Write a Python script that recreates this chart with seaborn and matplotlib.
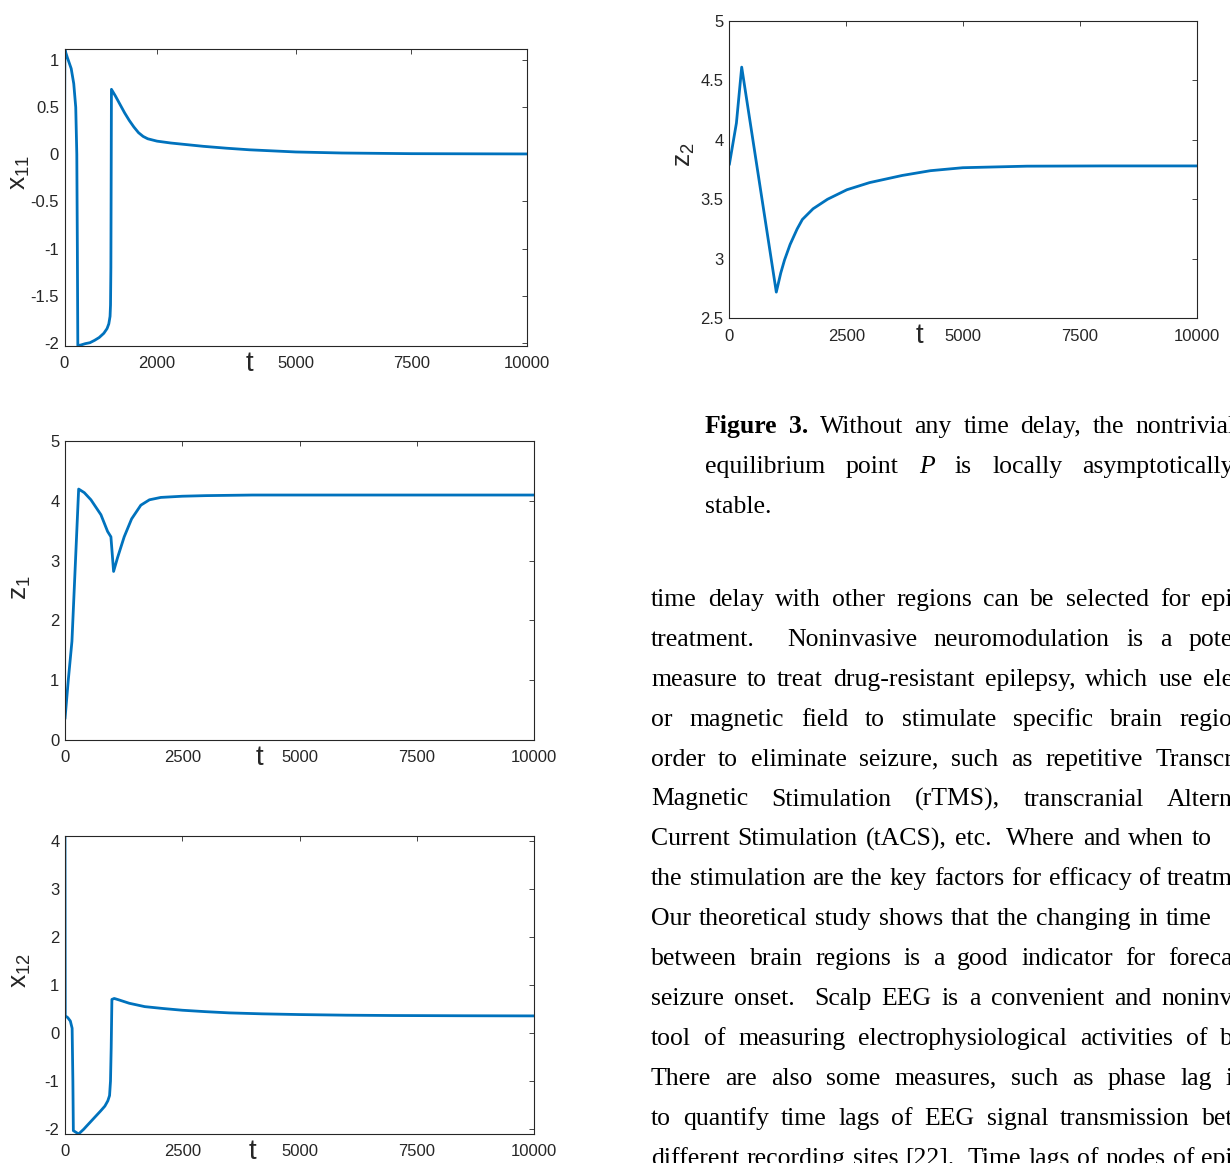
import matplotlib
matplotlib.use("Agg")
import matplotlib.pyplot as plt
import seaborn as sns

# valores (t, variable)
t_x11 = [0, 8, 60, 145, 200, 243, 266, 278, 288, 350, 450, 550, 650, 750, 850, 920, 958, 985, 995, 1003,
         1015, 1100, 1200, 1300, 1400, 1500, 1600, 1700, 1800, 2000, 2300, 2700, 3000, 3500, 4000,
         5000, 6000, 7500, 10000]
x11 = [0, 1.11, 1.03, 0.91, 0.75, 0.5, 0.0, -1.0, -2.03, -2.025, -2.01, -2.0, -1.975, -1.945, -1.9, -1.85,
       -1.8, -1.72, -1.6, -1.2,
       0.69, 0.62, 0.53, 0.44, 0.36, 0.29, 0.23, 0.19, 0.165, 0.14, 0.12, 0.10, 0.085, 0.065, 0.048,
       0.025, 0.014, 0.007, 0.004]

t_z1 = [0, 70, 148, 198, 291, 411, 553, 766, 908, 979, 1036, 1120, 1262, 1420, 1617, 1800,
        2043, 2500, 3000, 4000, 6000, 10000]
z1 = [0.35, 1.0, 1.65, 2.54, 4.2, 4.14, 4.02, 3.77, 3.49, 3.4, 2.82, 3.05, 3.4, 3.7, 3.93, 4.02,
      4.06, 4.08, 4.09, 4.1, 4.1, 4.1]

t_x12 = [0, 5, 60, 114, 152, 168, 178, 290, 400, 456, 608, 760, 850, 913, 950, 970, 985, 1000,
         1050, 1150, 1370, 1700, 2100, 2500, 3000, 3500, 4200, 5000, 6000, 7000, 8500, 10000]
x12 = [4.1, 0.36, 0.32, 0.25, 0.1, -1.0, -2.03, -2.1, -2.0, -1.94, -1.78, -1.62, -1.52, -1.41, -1.3, -1.0,
       -0.3, 0.70,
       0.72, 0.69, 0.62, 0.55, 0.51, 0.475, 0.445, 0.42, 0.40, 0.385, 0.372, 0.365, 0.36, 0.357]

t_z2 = [0, 152, 265, 1005, 1100, 1181, 1300, 1450, 1562, 1791, 2100, 2515, 3000, 3697, 4300,
        4992, 6364, 8000, 10000]
z2 = [3.79, 4.14, 4.61, 2.72, 2.88, 2.99, 3.12, 3.25, 3.33, 3.42, 3.5, 3.58, 3.64, 3.70, 3.74,
      3.765, 3.778, 3.78, 3.78]

xticks_x11 = [0, 2000, 5000, 7500, 10000]
xticks_t = [0, 2500, 5000, 7500, 10000]
yticks_x11 = [-2, -1.5, -1, -0.5, 0, 0.5, 1]
yticks_z1 = [0, 1, 2, 3, 4, 5]
yticks_x12 = [-2, -1, 0, 1, 2, 3, 4]
yticks_z2 = [2.5, 3, 3.5, 4, 4.5, 5]

caption_lines = ["Figure 3. Without any time delay, the nontrivial",
                 "equilibrium point P is locally asymptotically",
                 "stable."]
body_lines = ["time delay with other regions can be selected for epi",
              "treatment. Noninvasive neuromodulation is a pote",
              "measure to treat drug-resistant epilepsy, which use ele",
              "or magnetic field to stimulate specific brain regio",
              "order to eliminate seizure, such as repetitive Transcr",
              "Magnetic Stimulation (rTMS), transcranial Altern",
              "Current Stimulation (tACS), etc. Where and when to",
              "the stimulation are the key factors for efficacy of treatm",
              "Our theoretical study shows that the changing in time",
              "between brain regions is a good indicator for foreca",
              "seizure onset. Scalp EEG is a convenient and noninv",
              "tool of measuring electrophysiological activities of b",
              "There are also some measures, such as phase lag i",
              "to quantify time lags of EEG signal transmission bet",
              "different recording sites [22]. Time lags of nodes of epi"]

W, H = 1230, 1163
AZUL = "#0072BD"
GRIS = "#262626"

sns.set_theme(style="white")
plt.rcParams["font.family"] = ["Liberation Sans", "DejaVu Sans"]
plt.rcParams["axes.unicode_minus"] = False
plt.rcParams["mathtext.default"] = "regular"


def rect(l, t, r, b):
    return [l / W, 1 - b / H, (r - l) / W, (b - t) / H]


def panel(ax, t, y, nombre, xticks, yticks, ylim, tx, ly):
    sns.lineplot(x=t, y=y, ax=ax, color=AZUL, linewidth=2.0, estimator=None, sort=False)
    ax.set_xlim(0, 10000)
    ax.set_ylim(*ylim)
    ax.set_xticks(xticks)
    ax.set_xticklabels([f"{v:g}" for v in xticks])
    ax.set_yticks(yticks)
    ax.set_yticklabels([f"{v:g}" for v in yticks])
    ax.tick_params(direction="in", top=True, right=True, length=3.6, width=0.6,
                   colors=GRIS, labelsize=12)
    ax.tick_params(axis="x", pad=7.5)
    ax.tick_params(axis="y", pad=4)
    for s in ax.spines.values():
        s.set_color(GRIS)
        s.set_linewidth(0.8)
    ax.set_xlabel("t", fontsize=20, color=GRIS)
    ax.xaxis.label.set_va("center")
    alto = ax.get_position().height * H
    ax.xaxis.set_label_coords(tx, -18 / alto)
    ax.set_ylabel(nombre, fontsize=19, color=GRIS)
    ax.yaxis.label.set_va("center")
    ancho = ax.get_position().width * W
    ax.yaxis.set_label_coords(-44 / ancho, ly)


def justificar(fig, palabras, x0, x1, base, ultima=False, **kw):
    r = fig.canvas.get_renderer()
    arts, anchos = [], []
    for p in palabras:
        estilo = dict(kw)
        if p in ("Figure", "3.") and base < 440:
            estilo["fontweight"] = "bold"
        if p == "P":
            estilo["fontstyle"] = "italic"
        a = fig.text(0, 1 - base / H, p, va="baseline", ha="left", **estilo)
        arts.append(a)
        anchos.append(a.get_window_extent(renderer=r).width)
    pesos = [1.9 if (p.endswith(".") and p != "3.") else 1.0 for p in palabras[:-1]]
    if ultima or len(palabras) == 1:
        extra = [6.0 * w for w in pesos]
    else:
        libre = (x1 - x0) - sum(anchos)
        unidad = max(libre / sum(pesos), 3.0)
        extra = [unidad * w for w in pesos]
    x = x0
    for i, a in enumerate(arts):
        a.set_x(x / W)
        x += anchos[i] + (extra[i] if i < len(extra) else 0)


fig = plt.figure(figsize=(W / 100, H / 100), dpi=100)
fig.patch.set_facecolor("white")

ax1 = fig.add_axes(rect(64.5, 49.3, 527, 346))
ax2 = fig.add_axes(rect(65, 441.3, 534, 739.8))
ax3 = fig.add_axes(rect(65, 836, 534, 1134))
ax4 = fig.add_axes(rect(729.3, 20.7, 1197, 318.3))

panel(ax1, t_x11, x11, "x$_{11}$", xticks_x11, yticks_x11, (-2.035, 1.115), 0.40, 0.585)
panel(ax2, t_z1, z1, "z$_1$", xticks_t, yticks_z1, (0, 5), 0.415, 0.51)
panel(ax3, t_x12, x12, "x$_{12}$", xticks_t, yticks_x12, (-2.1, 4.1), 0.40, 0.55)
panel(ax4, t_z2, z2, "z$_2$", xticks_t, yticks_z2, (2.5, 5), 0.406, 0.55)

texto = dict(fontsize=18.5, color="black", family=["Liberation Serif", "DejaVu Serif"])
justificar(fig, caption_lines[0].split(), 705, 1236, 433, **texto)
justificar(fig, caption_lines[1].split(), 705, 1234, 473, **texto)
justificar(fig, caption_lines[2].split(), 705, 1234, 513, ultima=True, **texto)

for i, linea in enumerate(body_lines):
    fin = 1212 if linea.endswith(("to", "time")) else 1233
    justificar(fig, linea.split(), 651, fin, 606 + 39.9 * i, **texto)

fig.savefig("out.png", dpi=100)
